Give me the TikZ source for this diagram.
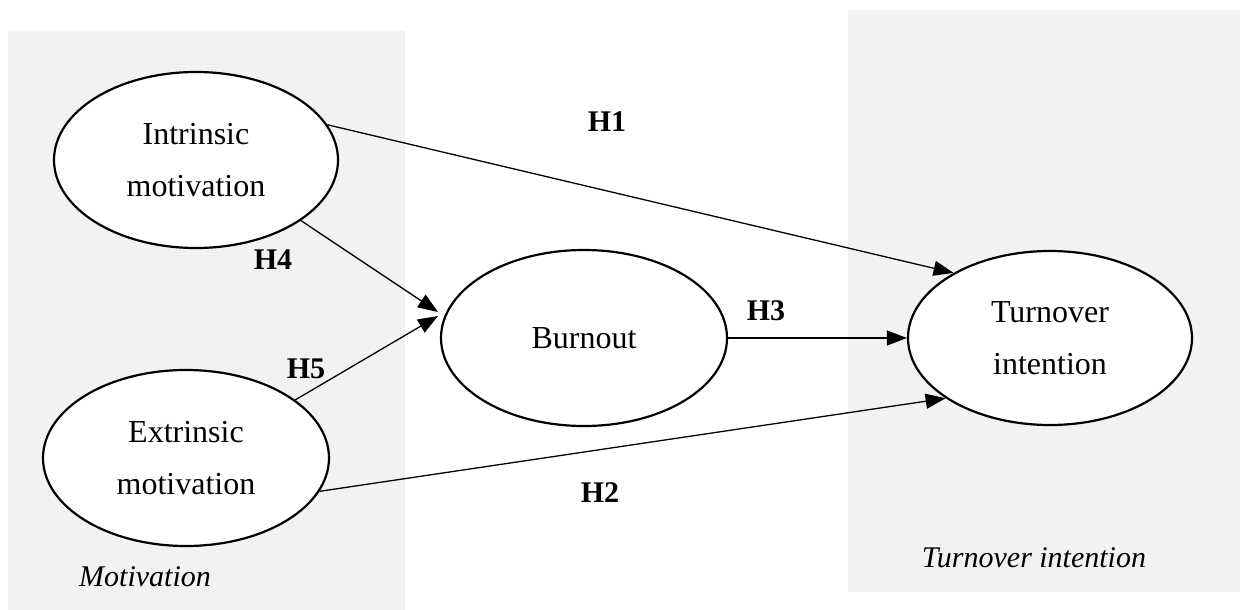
\documentclass[tikz,border=0pt]{standalone}
\usepackage{fontspec}
\setmainfont{Liberation Serif}
\usetikzlibrary{arrows.meta,shapes.geometric}
\definecolor{bgray}{HTML}{F2F2F2}
\begin{document}
\begin{tikzpicture}[x=1pt,y=-1pt,
  construct/.style={ellipse,draw,line width=2.2pt,fill=white,inner sep=0pt,
    align=center,font=\fontsize{32}{52}\selectfont},
  hlabel/.style={font=\fontsize{30}{32}\selectfont\bfseries},
  glabel/.style={font=\fontsize{30}{32}\selectfont\itshape},
  link/.style={line width=1.3pt,-{Triangle[length=20pt,width=15pt]}},
  panel/.style={fill=bgray,draw=none}]
\useasboundingbox (0,0) rectangle (1242,610);
\fill[white] (0,0) rectangle (1242,610);
\path[panel] (8,31) rectangle (405,610);
\path[panel] (848,10) rectangle (1240,592);

\node[construct,minimum width=284pt,minimum height=176pt] (intr) at (196,160) {Intrinsic\\motivation};
\node[construct,minimum width=286pt,minimum height=176pt] (extr) at (186,458) {Extrinsic\\motivation};
\node[construct,minimum width=286pt,minimum height=176pt] (burn) at (584,338) {Burnout};
\node[construct,minimum width=284pt,minimum height=174pt] (turn) at (1050,338) {Turnover\\intention};

\coordinate (t4) at (438,312);
\coordinate (t5) at (438,316);

\draw[link] (intr.15) -- (turn.146);
\draw[link] (intr.-30) -- (t4);
\draw[link] (extr.28) -- (t5);
\draw[link] (burn.east) -- (turn.west);
\draw[link] (extr.-14) -- (turn.210);

\node[hlabel] (h1) at (607,122) {H1};
\node[hlabel] (h4) at (273,260) {H4};
\node[hlabel] (h5) at (306,369) {H5};
\node[hlabel] (h3) at (766,311) {H3};
\node[hlabel] (h2) at (600,493) {H2};

\node[glabel] (gm) at (145,577) {Motivation};
\node[glabel] (gt) at (1034,558) {Turnover intention};
\end{tikzpicture}
\end{document}
